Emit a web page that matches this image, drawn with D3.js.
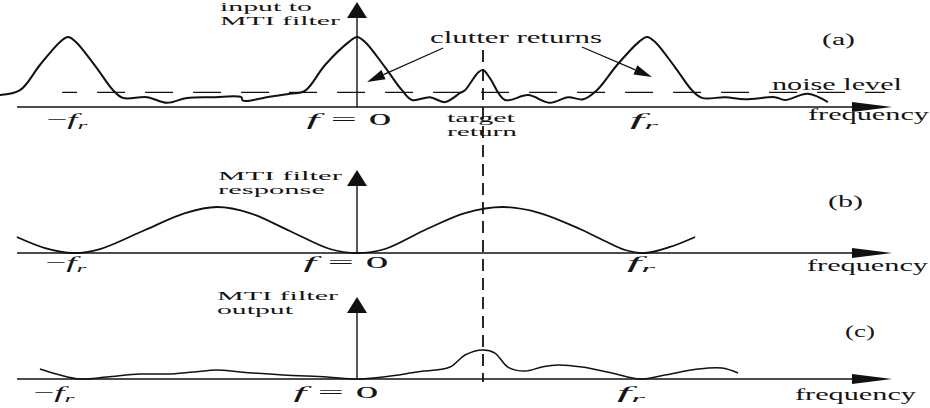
<!DOCTYPE html>
<html>
<head>
<meta charset="utf-8">
<script src="https://cdn.jsdelivr.net/npm/d3@7"></script>
<style>
    body { margin: 0; background: #fff; }
    text { font-family: "Liberation Serif", "Times New Roman", serif; font-size: 16px; fill: #151515; }
    .title { font-size: 12px; }
</style>
</head>
<body>
<svg id="chart" width="930" height="408"></svg>
<script>
// frequency in units where f_r = 100, amplitude where a clutter peak = 100
var tickValues = [-100, 0, 100];
var tickLabels = [
    [["\u2212", ""], ["f", "i"], ["r", "s"]],
    [["f", "i"], [" =  0", ""]],
    [["f", "i"], ["r", "s"]]
];

// (a) input to MTI filter: clutter at 0 and +-f_r, target, noise
var inputFreq = [-124, -117, -110.1, -103.1, -100.3, -97.6, -90.6, -84.7, -81.3, -72.9, -66, -59, -50, -40.2, -39.6,
    -31.3, -23.3, -18.1, -11.1, -2.8, 0, 2.8, 9.7, 15.6, 19.1, 25.3, 30.6, 35.8, 37.5, 42, 43.75, 46.2, 51.4, 59.4,
    67, 73.3, 78.5, 83.3, 90.3, 97.9, 100.7, 103.5, 110.4, 116.3, 119.8, 127.8, 134.7, 145.1, 148.6, 156.6, 163.5];
var inputAmp = [17, 24, 60, 93, 100, 93, 57, 24, 13, 14, 6, 13, 14, 14, 9,
    14, 19, 23, 60, 93, 100, 93, 57, 24, 10, 14, 7, 20, 24, 49, 53, 41, 10, 17,
    6, 14, 11, 24, 60, 93, 100, 93, 57, 24, 13, 14, 11, 14, 10, 19, 7];
var noiseLevel = 21;
var targetFreq = 43.75;

// (b) MTI filter response
var responseFreq = [-118.1, -108.3, -98.6, -89.2, -73.6, -59.7, -48.6, -37.2, -23.3, -9.4, 0, 9.7, 23.6, 37.5,
    50.7, 63.5, 77.4, 86.1, 93.1, 100, 108.7, 117.4];
var responseAmp = [22.9, 7.1, 0, 5.7, 32.9, 57.1, 65.7, 57.1, 31.4, 5.7, 0, 5.7, 32.9, 57.1,
    65.7, 57.1, 34.3, 17.1, 4.3, 0, 8.6, 22.9];

// (c) MTI filter output
var outputFreq = [-110.1, -103.1, -96.2, -86.8, -75.3, -66, -56.9, -48.6, -40.6, -25.7, -10.4, 0, 9, 20.8, 32.3,
    37.5, 43.75, 47.9, 52.4, 58.3, 64.2, 69.8, 78.1, 88.5, 98.3, 106.9, 118.4, 126.7, 132.3];
var outputAmp = [14.3, 5.7, 0, 2.9, 7.1, 7.1, 10, 12.9, 10, 5.7, 2.9, 0, 2.9, 10, 17.1,
    34.3, 41.4, 37.1, 17.1, 11.4, 17.1, 20, 17.1, 8.6, 0, 5.7, 14.3, 15.7, 8.6];

var svg = d3.select("#chart");

var x = d3.scaleLinear().domain([-100, 100]).range([69, 645]);

var panels = [
    {base: 107, axisTop: 2, freq: inputFreq, amp: inputAmp, width: 2,
        title: ["input to", "MTI filter"], titleX: 220, titleY: [11, 24.5], titleW: [92, 120],
        tag: "(a)", tagX: 822, tagY: 45, tagW: 33,
        freqX: 808, freqY: 120, tickY: 125, tickDx: [-2, -8, -1]},
    {base: 253, axisTop: 170, freq: responseFreq, amp: responseAmp, width: 1.8,
        title: ["MTI filter", "response"], titleX: 218, titleY: [180, 193.5], titleW: [124, 107],
        tag: "(b)", tagX: 828, tagY: 207, tagW: 35,
        freqX: 807, freqY: 271, tickY: 268, tickDx: [-3, -11, -4]},
    {base: 379, axisTop: 297, freq: outputFreq, amp: outputAmp, width: 1.5,
        title: ["MTI filter", "output"], titleX: 217, titleY: [300, 313.5], titleW: [121, 76],
        tag: "(c)", tagX: 845, tagY: 337, tagW: 30,
        freqX: 795, freqY: 400, tickY: 398, tickDx: [-15, -21, -14]}
];
var tickW = [41, 85, 28];

function drawPanel(p) {
    var y = d3.scaleLinear().domain([0, 100]).range([p.base, p.base - 70]);
    var g = svg.append("g");

    // frequency axis with arrow
    g.append("line")
        .attr("x1", 17).attr("x2", 860)
        .attr("y1", p.base).attr("y2", p.base)
        .attr("stroke", "#111").attr("stroke-width", 1.3);
    g.append("path")
        .attr("d", "M852," + (p.base - 5) + "L892," + p.base + "L852," + (p.base + 5) + "Z")
        .attr("fill", "#111");

    // amplitude axis with arrow
    g.append("line")
        .attr("x1", x(0)).attr("x2", x(0))
        .attr("y1", p.base).attr("y2", p.axisTop + 12)
        .attr("stroke", "#111").attr("stroke-width", 1.4);
    g.append("path")
        .attr("d", "M" + (x(0) - 10) + "," + (p.axisTop + 16) + "L" + x(0) + "," + p.axisTop +
            "L" + (x(0) + 10) + "," + (p.axisTop + 16) + "Z")
        .attr("fill", "#111");

    var line = d3.line()
        .x(function (d, i) { return x(p.freq[i]); })
        .y(function (d) { return y(d); })
        .curve(d3.curveCatmullRom.alpha(0.5));

    g.append("path")
        .attr("d", line(p.amp))
        .attr("fill", "none")
        .attr("stroke", "#111")
        .attr("stroke-width", p.width)
        .attr("stroke-linejoin", "round");

    // axis titles
    p.title.forEach(function (t, i) {
        g.append("text").attr("class", "title")
            .attr("x", p.titleX).attr("y", p.titleY[i])
            .attr("textLength", p.titleW[i]).attr("lengthAdjust", "spacingAndGlyphs")
            .text(t);
    });
    g.append("text").attr("x", p.tagX).attr("y", p.tagY)
        .attr("textLength", p.tagW).attr("lengthAdjust", "spacingAndGlyphs")
        .text(p.tag);
    g.append("text").attr("x", p.freqX).attr("y", p.freqY)
        .attr("textLength", 121).attr("lengthAdjust", "spacingAndGlyphs")
        .text("frequency");

    // tick labels -f_r, f = 0, f_r
    tickValues.forEach(function (t, i) {
        var txt = g.append("text")
            .attr("x", x(t) + p.tickDx[i] - tickW[i] / 2)
            .attr("y", p.tickY)
            .attr("font-size", 15)
            .attr("textLength", tickW[i]).attr("lengthAdjust", "spacingAndGlyphs");
        tickLabels[i].forEach(function (part) {
            var s = txt.append("tspan").text(part[0]);
            if (part[1] === "i") s.attr("font-style", "italic");
            if (part[1] === "s") s.attr("font-style", "italic").attr("font-size", 11).attr("dy", 4);
        });
    });

    return y;
}

var yScales = panels.map(drawPanel);
var yA = yScales[0];

// noise level
svg.append("line")
    .attr("x1", x(-102.4)).attr("x2", x(183.3))
    .attr("y1", yA(noiseLevel)).attr("y2", yA(noiseLevel))
    .attr("stroke", "#111").attr("stroke-width", 1.2)
    .attr("stroke-dasharray", "28,20").attr("stroke-dashoffset", 13);
svg.append("text").attr("x", 772).attr("y", 90)
    .attr("textLength", 130).attr("lengthAdjust", "spacingAndGlyphs")
    .text("noise level");

// target return
svg.append("line")
    .attr("x1", x(targetFreq)).attr("x2", x(targetFreq))
    .attr("y1", 50).attr("y2", 382)
    .attr("stroke", "#111").attr("stroke-width", 1.8)
    .attr("stroke-dasharray", "12,7");
svg.append("text").attr("class", "title").attr("x", 447).attr("y", 122)
    .attr("textLength", 68).attr("lengthAdjust", "spacingAndGlyphs").text("target");
svg.append("text").attr("class", "title").attr("x", 447).attr("y", 135.5)
    .attr("textLength", 70).attr("lengthAdjust", "spacingAndGlyphs").text("return");

// clutter returns annotation
svg.append("text").attr("x", 430).attr("y", 43)
    .attr("textLength", 172).attr("lengthAdjust", "spacingAndGlyphs")
    .text("clutter returns");

function arrow(x1, y1, x2, y2) {
    var a = Math.atan2(y2 - y1, x2 - x1), len = 18, w = 5;
    var bx = x2 - len * Math.cos(a), by = y2 - len * Math.sin(a);
    svg.append("line").attr("x1", x1).attr("y1", y1).attr("x2", bx).attr("y2", by)
        .attr("stroke", "#111").attr("stroke-width", 1.2);
    svg.append("path")
        .attr("d", "M" + x2 + "," + y2 +
            "L" + (bx - w * Math.sin(a)) + "," + (by + w * Math.cos(a)) +
            "L" + (bx + w * Math.sin(a)) + "," + (by - w * Math.cos(a)) + "Z")
        .attr("fill", "#111");
}
arrow(x(29.9), yA(84.3), x(3.5), yA(35.7));
arrow(x(78.1), yA(85.7), x(102.4), yA(42.9));
</script>
</body>
</html>
